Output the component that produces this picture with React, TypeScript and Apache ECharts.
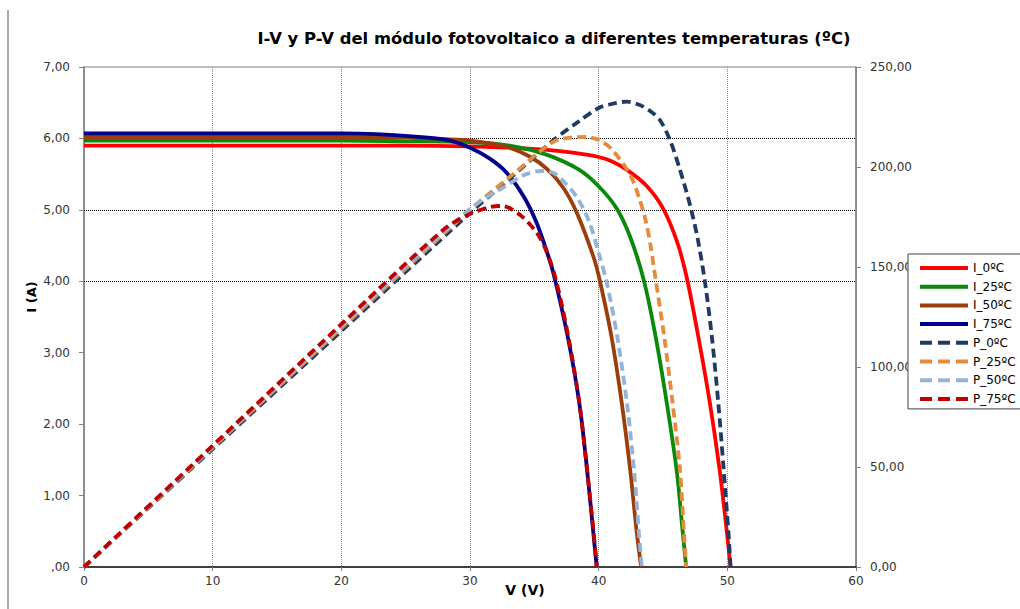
import React, { useEffect, useRef } from "react";
import * as echarts from "echarts";

const titleText = "I-V y P-V del módulo fotovoltaico a diferentes temperaturas (ºC)";
const xAxisName = "V (V)";
const yAxisName = "I (A)";
const seriesNames = ["I_0ºC", "I_25ºC", "I_50ºC", "I_75ºC", "P_0ºC", "P_25ºC", "P_50ºC", "P_75ºC"];
const seriesColors = ["#ff0000", "#0a8a0a", "#9c3d0c", "#00008b", "#1f3b63", "#e58b3d", "#95b3d7", "#c00000"];
const hGridLevels = [4, 5, 6];

// I-V curves (V, A)
const i0V = [0, 10, 20, 25, 30, 33, 36, 38, 40, 41, 42.2, 43.7, 45, 46.1, 46.85, 47.75, 48.65, 49.4, 49.97, 50.25];
const i0A = [5.9, 5.9, 5.9, 5.9, 5.89, 5.87, 5.84, 5.8, 5.74, 5.68, 5.56, 5.34, 5.02, 4.55, 4.05, 3.22, 2.29, 1.36, 0.48, 0];
const i25V = [0, 10, 20, 25, 30, 33.4, 36, 38.5, 40, 41.4, 42.45, 43.5, 44.4, 45.3, 46.1, 46.5, 46.8];
const i25A = [5.97, 5.97, 5.97, 5.96, 5.95, 5.89, 5.77, 5.56, 5.33, 5.02, 4.62, 4.02, 3.25, 2.29, 1.3, 0.55, 0];
const i50V = [0, 10, 20, 25, 28, 30, 32.9, 34.7, 36, 37.25, 38.3, 39.6, 40.1, 41.0, 41.8, 42.45, 42.95, 43.3];
const i50A = [6.02, 6.02, 6.02, 6.01, 5.99, 5.97, 5.88, 5.74, 5.57, 5.31, 4.96, 4.34, 4.0, 3.22, 2.29, 1.36, 0.5, 0];
const i75V = [0, 10, 20, 22.7, 25.5, 28.2, 30, 31.6, 32.9, 34.2, 35.2, 36.0, 36.5, 37.6, 38.5, 39.1, 39.6, 39.85];
const i75A = [6.07, 6.07, 6.07, 6.06, 6.03, 5.98, 5.87, 5.71, 5.51, 5.18, 4.81, 4.4, 4.1, 3.22, 2.29, 1.36, 0.45, 0];

// P-V curves (V, W)
const p0V = [0, 10, 20, 30, 33, 36.5, 38.5, 40, 41, 42.2, 43.2, 44, 44.76, 45.54, 46.3, 47.1, 47.7, 48.25, 48.8, 49.3, 49.7, 50.1, 50.25];
const p0W = [0, 59, 118, 177, 193.7, 213.5, 223, 229.5, 231.5, 232.7, 231, 228, 223.5, 213.5, 199, 181, 164, 143, 115, 81.8, 50, 16, 0];
const p25V = [0, 10, 20, 30, 33.4, 36.5, 38, 39, 40, 41, 42.45, 43.2, 43.7, 44.05, 44.4, 45.1, 45.75, 46.3, 46.65, 46.8];
const p25W = [0, 59.7, 119.4, 178.5, 196.7, 212.7, 214.8, 215, 213.5, 209, 196, 183.5, 172, 160, 145, 115, 81.8, 50, 15, 0];
const p50V = [0, 10, 20, 30, 32.9, 34.2, 35.5, 36.5, 37.4, 38.4, 39.3, 40, 40.6, 41.45, 42.2, 42.75, 43.15, 43.35];
const p50W = [0, 60.2, 120.4, 179, 191, 196, 198, 197, 192, 184, 172, 157, 143, 115, 81.8, 48.5, 15, 0];
const p75V = [0, 10, 20, 28, 30, 31.6, 32.5, 33.9, 35.2, 36, 36.7, 37.65, 38.5, 39.1, 39.6, 39.85];
const p75W = [0, 60.7, 121.4, 169, 176.5, 180, 180.5, 176, 167, 157, 143, 115, 81.8, 48.5, 18, 0];

const curves = [
  [i0V, i0A], [i25V, i25A], [i50V, i50A], [i75V, i75A],
  [p0V, p0W], [p25V, p25W], [p50V, p50W], [p75V, p75W],
];

const FONT = "DejaVu Sans";
const SOLID_ICON = "path://M0,0H48V4H0Z";
const DASH_ICON = "path://M0,0H12V4H0Z M18,0H30V4H18Z M36,0H48V4H36Z";

function pairs(xs: number[], ys: number[]) {
  return xs.map((x, i) => [x, ys[i]]);
}

export default function App() {
  const ref = useRef<HTMLDivElement>(null);
  useEffect(() => {
    document.body.style.margin = "0";
    if (!ref.current) return;
    const chart = echarts.init(ref.current, undefined, { renderer: "svg" });
    const series: any[] = curves.map((c, idx) => {
      const isP = idx >= 4;
      const s: any = {
        name: seriesNames[idx],
        type: "line",
        yAxisIndex: isP ? 1 : 0,
        data: pairs(c[0], c[1]),
        symbol: "none",
        showSymbol: false,
        smooth: 0.3,
        color: seriesColors[idx],
        lineStyle: {
          color: seriesColors[idx],
          width: 3.8,
          type: isP ? [9, 5] : "solid",
          cap: "butt",
        },
        z: 3 + idx * 0.01,
      };
      if (idx === 0) {
        s.markLine = {
          silent: true,
          symbol: "none",
          label: { show: false },
          lineStyle: { color: "#000", width: 1, type: [1, 1] },
          data: hGridLevels.map((v) => ({ yAxis: v })),
          z: 1,
        };
      }
      return s;
    });
    chart.setOption({
      animation: false,
      backgroundColor: "#fff",
      textStyle: { fontFamily: FONT },
      title: {
        text: titleText,
        left: 549,
        top: 25,
        textAlign: "center",
        textStyle: { fontFamily: FONT, fontSize: 16.4, fontWeight: "bold", color: "#000" },
      },
      grid: {
        left: 84,
        right: 164,
        top: 67,
        bottom: 42,
        show: true,
        borderColor: "#808080",
        borderWidth: 1,
      },
      legend: {
        orient: "vertical",
        left: 908,
        top: 254,
        padding: [8, 60, 4, 12],
        itemWidth: 48,
        itemHeight: 12,
        itemGap: 6.7,
        backgroundColor: "#fff",
        borderColor: "#404040",
        borderWidth: 1,
        data: seriesNames.map((n, i) => ({ name: n, icon: i >= 4 ? DASH_ICON : SOLID_ICON })),
        textStyle: { fontFamily: FONT, fontSize: 12, color: "#000" },
      },
      xAxis: {
        type: "value",
        min: 0,
        max: 60,
        interval: 10,
        name: xAxisName,
        nameLocation: "middle",
        nameGap: 16,
        nameMoveOverlap: false,
        nameTextStyle: { fontFamily: FONT, fontSize: 14, fontWeight: "bold", color: "#000", padding: [0, 0, 0, 110] },
        axisLine: { show: true, onZero: false, lineStyle: { color: "#404040", width: 2 } },
        axisTick: { show: true, length: 4, lineStyle: { color: "#808080" } },
        axisLabel: { fontFamily: FONT, fontSize: 12, color: "#333", margin: 8 },
        splitLine: { show: true, lineStyle: { color: "#8a8a8a", width: 1, type: [1, 1] } },
      },
      yAxis: [
        {
          type: "value",
          min: 0,
          max: 7,
          interval: 1,
          name: yAxisName,
          nameLocation: "middle",
          nameGap: 46,
          nameRotate: 90,
          nameMoveOverlap: false,
          nameTextStyle: { fontFamily: FONT, fontSize: 13, fontWeight: "bold", color: "#000", padding: [0, 0, 0, 40] },
          axisLine: { show: true, lineStyle: { color: "#808080", width: 1.5 } },
          axisTick: { show: true, length: 5, lineStyle: { color: "#808080" } },
          axisLabel: {
            fontFamily: FONT,
            fontSize: 12,
            color: "#333",
            margin: 14,
            formatter: (v: number) => (v === 0 ? ",00" : v.toFixed(2).replace(".", ",")),
          },
          splitLine: { show: false },
        },
        {
          type: "value",
          min: 0,
          max: 250,
          interval: 50,
          position: "right",
          axisLine: { show: true, lineStyle: { color: "#808080", width: 1.5 } },
          axisTick: { show: true, length: 5, lineStyle: { color: "#808080" } },
          axisLabel: {
            fontFamily: FONT,
            fontSize: 12,
            color: "#333",
            margin: 14,
            formatter: (v: number) => v.toFixed(2).replace(".", ","),
          },
          splitLine: { show: false },
        },
      ],
      graphic: [
        {
          type: "line",
          shape: { x1: 8, y1: 10, x2: 8, y2: 609 },
          style: { stroke: "#555", lineWidth: 1 },
          silent: true,
        },
      ],
      series,
    });
    return () => chart.dispose();
  }, []);
  return <div ref={ref} style={{ width: 1020, height: 609 }} />;
}
